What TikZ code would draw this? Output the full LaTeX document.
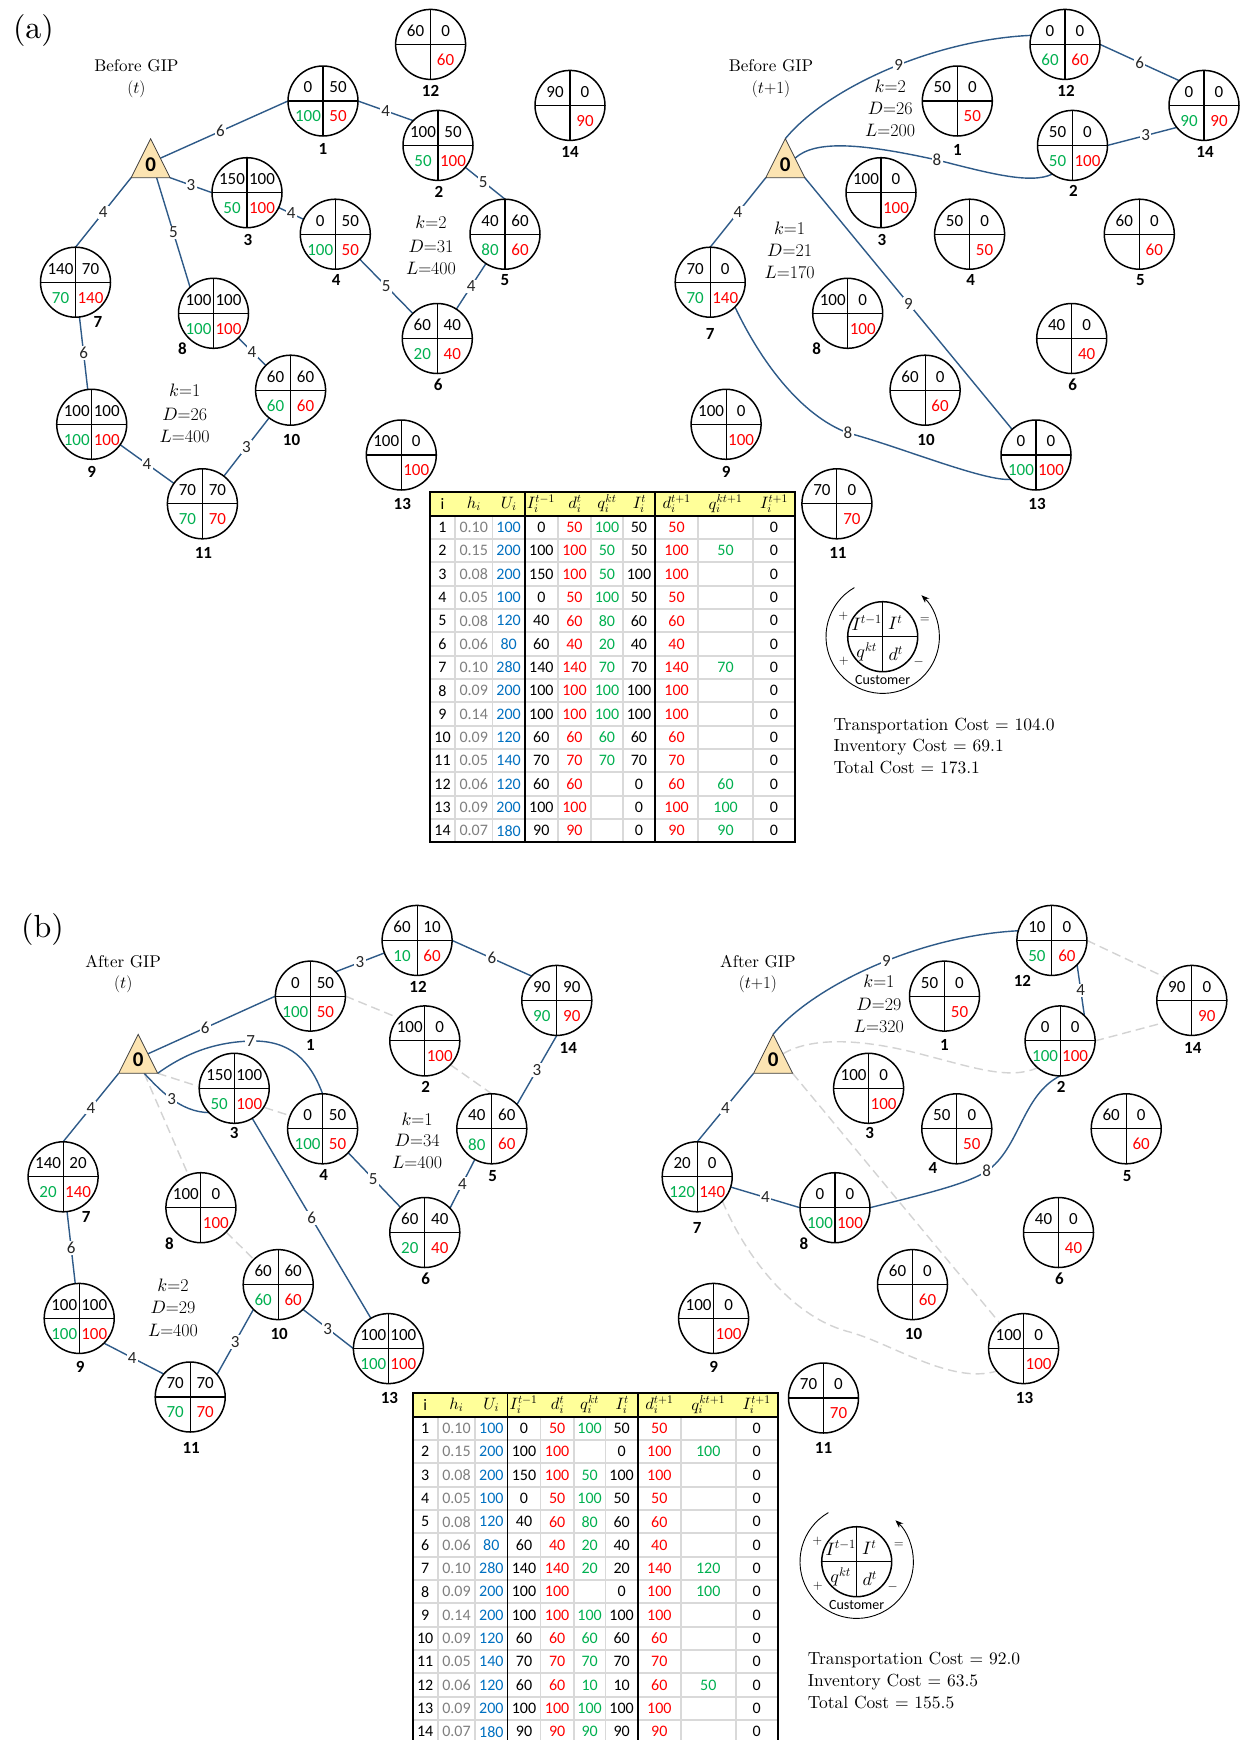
\documentclass[tikz,border=0pt]{standalone}
\usepackage{fix-cm}
\usepackage{fontspec}
\setmainfont{lmroman10-regular}[Extension=.otf, BoldFont=lmroman10-bold, ItalicFont=lmroman10-italic]
\newfontfamily\carl{Carlito}
\DeclareFontShape{OML}{cmm}{m}{it}{<->cmmi10}{}
\DeclareFontShape{OMS}{cmsy}{m}{n}{<->cmsy10}{}
\usetikzlibrary{arrows.meta,backgrounds}

\definecolor{routeblue}{HTML}{2E5A88}
\definecolor{qgreen}{HTML}{00B050}
\definecolor{dred}{HTML}{FF0000}
\definecolor{ublue}{HTML}{0070C0}
\definecolor{hgray}{HTML}{7F7F7F}
\definecolor{depotfill}{HTML}{FCE4B2}
\definecolor{hdryellow}{HTML}{FFFF99}
\definecolor{gridgray}{HTML}{D9D9D9}
\definecolor{dashgray}{HTML}{D3D3D3}

\tikzset{
  cust/.style={circle, draw=black, line width=1.5pt, fill=white, minimum size=70pt, inner sep=0pt, outer sep=0pt},
  quad/.style={draw=black, line width=1.1pt},
  num/.style={font=\carl\fontsize{17}{17}\selectfont, inner sep=0pt},
  nlab/.style={font=\carl\bfseries\fontsize{17}{17}\selectfont, inner sep=0pt},
  depotlab/.style={font=\carl\bfseries\fontsize{21}{21}\selectfont, inner sep=0pt},
  route/.style={draw=routeblue, line width=1.4pt},
  unused/.style={draw=dashgray, line width=1.4pt, dash pattern=on 9pt off 5pt},
  elab/.style={font=\carl\fontsize{17}{17}\selectfont, fill=white, inner sep=1.2pt, text=black!85},
  panelhead/.style={font=\fontsize{17}{17}\selectfont, inner sep=0pt},
  routeinfo/.style={font=\fontsize{18}{18}\selectfont, inner sep=0pt},
  tnum/.style={font=\carl\fontsize{16}{16}\selectfont, inner sep=0pt},
  thead/.style={font=\fontsize{16.5}{16.5}\selectfont, inner sep=0pt},
  gridline/.style={draw=gridgray, line width=1.8pt},
  tblk/.style={draw=black, line width=1.8pt},
  leg/.style={font=\fontsize{18}{18}\selectfont, inner sep=0pt},
  legsign/.style={font=\fontsize{13}{13}\selectfont, inner sep=0pt},
  cost/.style={font=\fontsize{17.5}{17.5}\selectfont, inner sep=0pt, anchor=base west},
  paneltag/.style={font=\fontsize{32}{32}\selectfont, inner sep=0pt},
}

% customer: name, x, y, I^{t-1}, I^t, q, d, number, label shift
\newcommand\cnode[9]{%
  \node[cust] (#1) at (#2,#3) {};
  \draw[quad] (#1.north) -- (#1.south) (#1.west) -- (#1.east);
  \node[num] (#1a) at (#2-15,#3-13.5) {#4};
  \node[num] (#1b) at (#2+15,#3-13.5) {#5};
  \if\relax\detokenize{#6}\relax\else\node[num,text=qgreen] (#1c) at (#2-15,#3+15.5) {#6};\fi
  \node[num,text=dred] (#1d) at (#2+15,#3+15.5) {#7};
  \node[nlab] (#1n) at ([shift={(#9)}]#1.center) {#8};
}

% depot triangle: name, apex x, apex y
\newcommand\depot[3]{%
  \coordinate (#1a) at (#2,#3);
  \coordinate (#1l) at (#2-19.5,#3+39);
  \coordinate (#1r) at (#2+19.5,#3+39);
  \coordinate (#1b) at (#2+6,#3+39);
  \coordinate (#1e) at (#2+9.75,#3+19.5);
  \filldraw[fill=depotfill, draw=black!75, line width=0.8pt] (#1a) -- (#1l) -- (#1r) -- cycle;
  \node[depotlab] (#1) at (#2,#3+25.5) {0};
}

% data table frame: prefix, x, y
\newcommand\tabframe[3]{%
  \gdef\tabp{#1}\gdef\tabx{#2}\gdef\taby{#3}%
  \fill[hdryellow] (#2,#3) rectangle (#2+365,#3+24);
  \foreach \k in {1,...,13} \draw[gridline] (#2,#3+24+\k*23.33) -- (#2+365,#3+24+\k*23.33);
  \foreach \cc in {25,62.5,127.8,161.1,192.8,268.1,323} \draw[gridline] (#2+\cc,#3+24) -- (#2+\cc,#3+350.6);
  \draw[tblk] (#2,#3+24) -- (#2+365,#3+24);
  \draw[tblk] (#2+94.8,#3) -- (#2+94.8,#3+350.6);
  \draw[tblk] (#2+225.1,#3) -- (#2+225.1,#3+350.6);
  \draw[tblk] (#2,#3) rectangle (#2+365,#3+350.6);
  \node[thead,font=\carl\fontsize{16}{16}\selectfont] (#1h1) at (#2+12.5,#3+12.5) {i};
  \node[thead] (#1h2) at (#2+43.75,#3+12) {$h_i$};
  \node[thead] (#1h3) at (#2+78.65,#3+12) {$U_i$};
  \node[thead] (#1h4) at (#2+110.8,#3+12) {$I_i^{t-1}$};
  \node[thead] (#1h5) at (#2+144.9,#3+12) {$d_i^{t}$};
  \node[thead] (#1h6) at (#2+176.95,#3+12) {$q_i^{kt}$};
  \node[thead] (#1h7) at (#2+209.5,#3+12) {$I_i^{t}$};
  \node[thead] (#1h8) at (#2+246.6,#3+12) {$d_i^{t+1}$};
  \node[thead] (#1h9) at (#2+295.55,#3+12) {$q_i^{kt+1}$};
  \node[thead] (#1h10) at (#2+344,#3+12) {$I_i^{t+1}$};
}
\newcommand\tcell[5]{\if\relax\detokenize{#4}\relax\else
  \node[tnum,text=#5] (\tabp-#3-#1) at (\tabx+#2,\taby+12.33+#3*23.33) {#4};\fi}
\newcommand\trow[9]{%
  \tcell{1}{12.5}{#1}{#1}{black}%
  \tcell{2}{43.75}{#1}{#2}{hgray}%
  \tcell{3}{78.65}{#1}{#3}{ublue}%
  \tcell{4}{111.3}{#1}{#4}{black}%
  \tcell{5}{144.45}{#1}{#5}{dred}%
  \tcell{6}{176.95}{#1}{#6}{qgreen}%
  \tcell{7}{208.95}{#1}{#7}{black}%
  \tcell{8}{246.6}{#1}{#8}{dred}%
  \tcell{9}{295.55}{#1}{#9}{qgreen}%
  \tcell{10}{344}{#1}{0}{black}%
}

% customer key with balance arrow: name, x, y
\newcommand\keyglyph[3]{%
  \node[cust] (#1) at (#2,#3) {};
  \draw[quad] (#1.north) -- (#1.south) (#1.west) -- (#1.east);
  \node[leg] (#1a) at (#2-16,#3-14) {$I^{t-1}$};
  \node[leg] (#1b) at (#2+12.5,#3-14) {$I^{t}$};
  \node[leg] (#1c) at (#2-16,#3+15) {$q^{kt}$};
  \node[leg] (#1d) at (#2+13,#3+17) {$d^{t}$};
  \node[legsign] (#1p) at (#2-39.5,#3-20) {$+$};
  \node[legsign] (#1q) at (#2-39,#3+25) {$+$};
  \node[legsign] (#1e) at (#2+42,#3-17) {$=$};
  \node[legsign] (#1m) at (#2+36,#3+26) {$-$};
  \node[font=\carl\fontsize{14}{14}\selectfont, inner sep=0pt] (#1t) at (#2,#3+43) {Customer};
  \draw[line width=0.9pt, -{Stealth[length=8pt,width=6pt]}] ([shift={(120:56.7pt)}]#1.center) arc[start angle=120, end angle=407, radius=56.7pt];
}

\begin{document}
\begin{tikzpicture}[x=1pt,y=-1pt]
\useasboundingbox (0,0) rectangle (1243,1740);

% ---------------- (a) before GIP, period t ----------------
\node[paneltag] (tagA) at (33.5,30.5) {(a)};
\node[panelhead] (Aht) at (136.4,65.8) {Before GIP};
\node[panelhead] (Ahs) at (136.4,88.8) {$(t)$};
\depot{A0}{150.6}{138.7}
\cnode{A1}{323}{101}{0}{50}{100}{50}{1}{0,48}
\cnode{A2}{438}{145.4}{100}{50}{50}{100}{2}{1,47}
\cnode{A3}{247}{192.7}{150}{100}{50}{100}{3}{1,47}
\cnode{A4}{335.3}{234.2}{0}{50}{100}{50}{4}{1,46}
\cnode{A5}{505}{234.2}{40}{60}{80}{60}{5}{0,46}
\cnode{A6}{437.3}{338.5}{60}{40}{20}{40}{6}{1,46}
\cnode{A7}{75.5}{282.2}{140}{70}{70}{140}{7}{22.5,40}
\cnode{A8}{213.5}{313.3}{100}{100}{100}{100}{8}{-31,35.5}
\cnode{A9}{91.7}{424.3}{100}{100}{100}{100}{9}{0,48}
\cnode{A10}{290.6}{390.2}{60}{60}{60}{60}{10}{1,50}
\cnode{A11}{202.4}{503.8}{70}{70}{70}{70}{11}{1,49}
\cnode{A12}{430.6}{44.4}{60}{0}{}{60}{12}{0,47}
\cnode{A13}{401.3}{455}{100}{0}{}{100}{13}{1,49}
\cnode{A14}{570}{105.4}{90}{0}{}{90}{14}{0,47}
\node[routeinfo] (Ak2) at (431,222) {$k{=}2$};
\node[routeinfo] (AD2) at (431,246) {$D{=}31$};
\node[routeinfo] (AL2) at (431,268.2) {$L{=}400$};
\node[routeinfo] (Ak1) at (184.7,390.2) {$k{=}1$};
\node[routeinfo] (AD1) at (184.7,414.3) {$D{=}26$};
\node[routeinfo] (AL1) at (184.7,436.5) {$L{=}400$};

% ---------------- (a) before GIP, period t+1 ----------------
\node[panelhead] (Bht) at (771,65.8) {Before GIP};
\node[panelhead] (Bhs) at (771,88.8) {$(t{+}1)$};
\depot{B0}{785.3}{138.7}
\cnode{B1}{957.3}{101}{50}{0}{}{50}{1}{0,49}
\cnode{B2}{1072.5}{145.4}{50}{0}{50}{100}{2}{1,46}
\cnode{B3}{881}{192.7}{100}{0}{}{100}{3}{1,47}
\cnode{B4}{969.6}{234.2}{50}{0}{}{50}{4}{1,46}
\cnode{B5}{1139.3}{234.2}{60}{0}{}{60}{5}{1,46}
\cnode{B6}{1071.7}{338.5}{40}{0}{}{40}{6}{1,46}
\cnode{B7}{710.2}{282.2}{70}{0}{70}{140}{7}{0,52}
\cnode{B8}{847.7}{313.3}{100}{0}{}{100}{8}{-31,35.5}
\cnode{B9}{726.1}{424.3}{100}{0}{}{100}{9}{0,48}
\cnode{B10}{925.1}{390.2}{60}{0}{}{60}{10}{1,50}
\cnode{B11}{836.9}{503.8}{70}{0}{}{70}{11}{1,49}
\cnode{B12}{1065}{44.4}{0}{0}{60}{60}{12}{1,47}
\cnode{B13}{1036}{455}{0}{0}{100}{100}{13}{1,49}
\cnode{B14}{1204}{105.4}{0}{0}{90}{90}{14}{1,47}
\node[routeinfo] (Bk2) at (890.2,85.8) {$k{=}2$};
\node[routeinfo] (BD2) at (890.2,108.4) {$D{=}26$};
\node[routeinfo] (BL2) at (890.2,130.2) {$L{=}200$};
\node[routeinfo] (Bk1) at (789.6,228.2) {$k{=}1$};
\node[routeinfo] (BD1) at (789.6,250.4) {$D{=}21$};
\node[routeinfo] (BL1) at (789.6,272.6) {$L{=}170$};

% ---------------- (b) after GIP, period t ----------------
\node[paneltag] (tagB) at (42.5,929.5) {(b)};
\node[panelhead] (Cht) at (123.2,961.3) {After GIP};
\node[panelhead] (Chs) at (123.2,984.5) {$(t)$};
\depot{C0}{138.2}{1034.3}
\cnode{C1}{310.4}{996.1}{0}{50}{100}{50}{1}{0,49}
\cnode{C2}{424.8}{1040.9}{100}{0}{}{100}{2}{1,46}
\cnode{C3}{234.2}{1088.3}{150}{100}{50}{100}{3}{0,45}
\cnode{C4}{322.6}{1128.8}{0}{50}{100}{50}{4}{1,46}
\cnode{C5}{491.8}{1128.8}{40}{60}{80}{60}{5}{1,47}
\cnode{C6}{424.8}{1232.5}{60}{40}{20}{40}{6}{1,46}
\cnode{C7}{63.1}{1176.8}{140}{20}{20}{140}{7}{23,40}
\cnode{C8}{200.9}{1207.7}{100}{0}{}{100}{8}{-31.4,35.5}
\cnode{C9}{79.2}{1318.4}{100}{100}{100}{100}{9}{1,49}
\cnode{C10}{278.2}{1284.6}{60}{60}{60}{60}{10}{1,49}
\cnode{C11}{190.2}{1397}{70}{70}{70}{70}{11}{1,51}
\cnode{C12}{417.1}{940.4}{60}{10}{10}{60}{12}{1,47}
\cnode{C13}{388.4}{1348.6}{100}{100}{100}{100}{13}{1,49}
\cnode{C14}{556.8}{1000.4}{90}{90}{90}{90}{14}{11.5,48}
\node[routeinfo] (Ck1) at (417.1,1118.8) {$k{=}1$};
\node[routeinfo] (CD1) at (417.1,1140.4) {$D{=}34$};
\node[routeinfo] (CL1) at (417.1,1161.9) {$L{=}400$};
\node[routeinfo] (Ck2) at (173,1285.3) {$k{=}2$};
\node[routeinfo] (CD2) at (173,1307.1) {$D{=}29$};
\node[routeinfo] (CL2) at (173,1330.4) {$L{=}400$};

% ---------------- (b) after GIP, period t+1 ----------------
\node[panelhead] (Dht) at (757.9,961.3) {After GIP};
\node[panelhead] (Dhs) at (757.9,984.5) {$(t{+}1)$};
\depot{D0}{773.1}{1034.3}
\cnode{D1}{944.5}{996.1}{50}{0}{}{50}{1}{0,49}
\cnode{D2}{1060.1}{1040.9}{0}{0}{100}{100}{2}{1,46}
\cnode{D3}{868.6}{1088.3}{100}{0}{}{100}{3}{1,45}
\cnode{D4}{956.8}{1128.8}{50}{0}{}{50}{4}{-23.8,39}
\cnode{D5}{1126.2}{1128.8}{60}{0}{}{60}{5}{1,47}
\cnode{D6}{1058.5}{1232.5}{40}{0}{}{40}{6}{1,46}
\cnode{D7}{697.2}{1176.8}{20}{0}{120}{140}{7}{0,51}
\cnode{D8}{835}{1207.7}{0}{0}{100}{100}{8}{-31.2,35.5}
\cnode{D9}{713.6}{1318.4}{100}{0}{}{100}{9}{0,49}
\cnode{D10}{912.5}{1284.6}{60}{0}{}{60}{10}{1,49}
\cnode{D11}{823.5}{1398}{70}{0}{}{70}{11}{0,50}
\cnode{D12}{1051.9}{940.4}{10}{0}{50}{60}{12}{-29.5,41}
\cnode{D13}{1023.6}{1348.6}{100}{0}{}{100}{13}{1,49}
\cnode{D14}{1191.8}{1000.4}{90}{0}{}{90}{14}{1,48}
\node[routeinfo] (Dk1) at (878.9,981.2) {$k{=}1$};
\node[routeinfo] (DD1) at (878.9,1004.4) {$D{=}29$};
\node[routeinfo] (DL1) at (878.9,1026) {$L{=}320$};

% ---------------- connectors (behind the customers) ----------------
\begin{pgfonlayer}{background}
\fill[white] (0,0) rectangle (1243,1740);
% (a), period t
\draw[route] (A0e) -- (A1.west) node[elab,pos=0.47] (Ae1) {6};
\draw[route] (A1.east) -- (A2.135) node[elab,pos=0.5] (Ae2) {4};
\draw[route] (A0r) -- (A3.west) node[elab,pos=0.5] (Ae3) {3};
\draw[route] (A3) -- (A4) node[elab,pos=0.5] (Ae4) {4};
\draw[route] (A4) -- (A6) node[elab,pos=0.5] (Ae5) {5};
\draw[route] (A6) -- (A5) node[elab,pos=0.5] (Ae6) {4};
\draw[route] (A2) -- (A5.north) node[elab,pos=0.45] (Ae7) {5};
\draw[route] (A0l) -- (A7.north) node[elab,pos=0.5] (Ae8) {4};
\draw[route] (A0b) -- (A8.132) node[elab,pos=0.5] (Ae9) {5};
\draw[route] (A7) -- (A9) node[elab,pos=0.5] (Ae10) {6};
\draw[route] (A9) -- (A11) node[elab,pos=0.5] (Ae11) {4};
\draw[route] (A11) -- (A10) node[elab,pos=0.5] (Ae12) {3};
\draw[route] (A8) -- (A10) node[elab,pos=0.5] (Ae13) {4};
% (a), period t+1
\draw[route] (B0a) .. controls (825,90) and (930,40) .. (B12.165) node[elab,pos=0.55] (Be1) {9};
\draw[route] (B12.east) -- (B14.135) node[elab,pos=0.5] (Be2) {6};
\draw[route] (B0e) .. controls (815,140) and (860,143) .. (937,160) node[elab] (Be3) {8}
  .. controls (985,172) and (1030,185) .. (B2.235);
\draw[route] (B2.east) -- (B14.219) node[elab,pos=0.55] (Be4) {3};
\draw[route] (B0l) -- (B7.north) node[elab,pos=0.5] (Be5) {4};
\draw[route] (B0r) -- (B13.133) node[elab,pos=0.5] (Be6) {9};
\draw[route] (B7.-45) .. controls (760,360) and (800,415) .. (848,433) node[elab] (Be7) {8}
  .. controls (895,445) and (985,482) .. (B13.224);
% (b), period t
\draw[unused] (C1.east) -- (C2.139);
\draw[unused] (C2.-43) -- (C5.north);
\draw[unused] (C0r) -- (C4.158);
\draw[unused] (C0b) -- (C8.111);
\draw[unused] (C8.-44) -- (C10.134);
\draw[route] (C0e) -- (C1.west) node[elab,pos=0.45] (Ce1) {6};
\draw[route] (C1.44) -- (C12.201) node[elab,pos=0.5] (Ce2) {3};
\draw[route] (C12.east) -- (C14.136) node[elab,pos=0.5] (Ce3) {6};
\draw[route] (C14.south) -- (C5.44) node[elab,pos=0.5] (Ce4) {3};
\draw[route] (C5.241) -- (C6.44) node[elab,pos=0.5] (Ce5) {4};
\draw[route] (C4.-43) -- (C6.134) node[elab,pos=0.48] (Ce6) {5};
\draw[route] (C0r) .. controls (190,1050) and (220,1042) .. (250.7,1041) node[elab] (Ce7) {7}
  .. controls (290,1040) and (310,1060) .. (C4.north);
\draw[route] (C0b) .. controls (160,1090) and (180,1112) .. (C3.224) node[elab,pos=0.5] (Ce8) {3};
\draw[route] (C3.-59) -- (C13.120) node[elab,pos=0.5] (Ce9) {6};
\draw[route] (C10.-45) -- (C13.west) node[elab,pos=0.49] (Ce10) {3};
\draw[route] (C11.40) -- (C10.225) node[elab,pos=0.5] (Ce11) {3};
\draw[route] (C9.-45) -- (C11.139) node[elab,pos=0.47] (Ce12) {4};
\draw[route] (C7) -- (C9) node[elab,pos=0.5] (Ce13) {6};
\draw[route] (C0l) -- (C7.north) node[elab,pos=0.5] (Ce14) {4};
% (b), period t+1
\draw[unused] (D0e) .. controls (815,1035) and (870,1040) .. (928,1056)
  .. controls (975,1068) and (1010,1080) .. (D2.230);
\draw[unused] (D2.east) -- (D14.219);
\draw[unused] (D12.east) -- (D14.139);
\draw[unused] (D0r) -- (D13.133);
\draw[unused] (D7.-44) .. controls (745,1255) and (790,1315) .. (846,1331)
  .. controls (890,1342) and (950,1385) .. (D13.220);
\draw[route] (D0a) .. controls (813,986) and (918,936) .. (D12.164) node[elab,pos=0.55] (De1) {9};
\draw[route] (D12.-44) -- (D2.46) node[elab,pos=0.5] (De2) {4};
\draw[route] (D0l) -- (D7.north) node[elab,pos=0.5] (De3) {4};
\draw[route] (D7.-17.5) -- (D8.west) node[elab,pos=0.5] (De4) {4};
\draw[route] (D8.east) .. controls (920,1195) and (965,1185) .. (986.7,1171.2) node[elab] (De5) {8}
  .. controls (1020,1148) and (1022,1095) .. (D2.south);
\end{pgfonlayer}

% ---------------- data tables ----------------
\tabframe{ta}{430}{491.7}
\trow{1}{0.10}{100}{0}{50}{100}{50}{50}{}
\trow{2}{0.15}{200}{100}{100}{50}{50}{100}{50}
\trow{3}{0.08}{200}{150}{100}{50}{100}{100}{}
\trow{4}{0.05}{100}{0}{50}{100}{50}{50}{}
\trow{5}{0.08}{120}{40}{60}{80}{60}{60}{}
\trow{6}{0.06}{80}{60}{40}{20}{40}{40}{}
\trow{7}{0.10}{280}{140}{140}{70}{70}{140}{70}
\trow{8}{0.09}{200}{100}{100}{100}{100}{100}{}
\trow{9}{0.14}{200}{100}{100}{100}{100}{100}{}
\trow{10}{0.09}{120}{60}{60}{60}{60}{60}{}
\trow{11}{0.05}{140}{70}{70}{70}{70}{70}{}
\trow{12}{0.06}{120}{60}{60}{}{0}{60}{60}
\trow{13}{0.09}{200}{100}{100}{}{0}{100}{100}
\trow{14}{0.07}{180}{90}{90}{}{0}{90}{90}

\tabframe{tb}{412.7}{1392.7}
\trow{1}{0.10}{100}{0}{50}{100}{50}{50}{}
\trow{2}{0.15}{200}{100}{100}{}{0}{100}{100}
\trow{3}{0.08}{200}{150}{100}{50}{100}{100}{}
\trow{4}{0.05}{100}{0}{50}{100}{50}{50}{}
\trow{5}{0.08}{120}{40}{60}{80}{60}{60}{}
\trow{6}{0.06}{80}{60}{40}{20}{40}{40}{}
\trow{7}{0.10}{280}{140}{140}{20}{20}{140}{120}
\trow{8}{0.09}{200}{100}{100}{}{0}{100}{100}
\trow{9}{0.14}{200}{100}{100}{100}{100}{100}{}
\trow{10}{0.09}{120}{60}{60}{60}{60}{60}{}
\trow{11}{0.05}{140}{70}{70}{70}{70}{70}{}
\trow{12}{0.06}{120}{60}{60}{10}{10}{60}{50}
\trow{13}{0.09}{200}{100}{100}{100}{100}{100}{}
\trow{14}{0.07}{180}{90}{90}{90}{90}{90}{}

% ---------------- keys and costs ----------------
\keyglyph{KA}{882.7}{636.7}
\node[cost] (Atc) at (833.3,730.3) {Transportation Cost = 104.0};
\node[cost] (Aic) at (833.3,751.7) {Inventory Cost = 69.1};
\node[cost] (Aoc) at (833.3,773.3) {Total Cost = 173.1};

\keyglyph{KB}{856.7}{1561.7}
\node[cost] (Btc) at (807.7,1664.3) {Transportation Cost = 92.0};
\node[cost] (Bic) at (807.7,1686.7) {Inventory Cost = 63.5};
\node[cost] (Boc) at (807.7,1708.7) {Total Cost = 155.5};
\end{tikzpicture}
\end{document}
